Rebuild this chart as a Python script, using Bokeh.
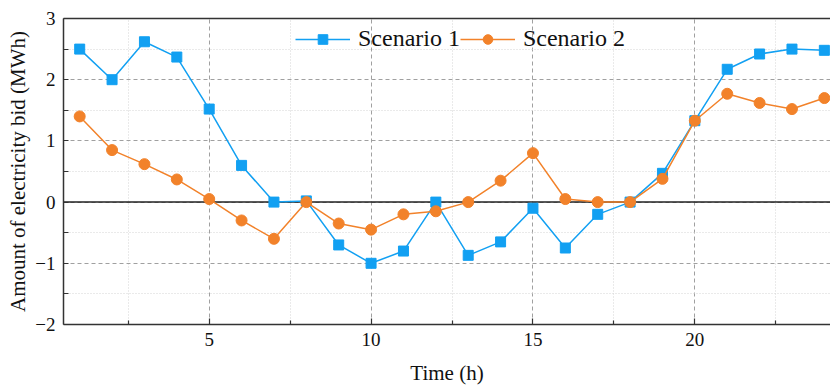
from bokeh.plotting import figure
from bokeh.models import FixedTicker, Span, LinearAxis, Range1d, Legend
from bokeh.embed import file_html
from bokeh.resources import INLINE

hours = list(range(1, 25))
scenario1 = [2.5, 2.0, 2.62, 2.37, 1.52, 0.6, 0.0, 0.02, -0.7, -1.0, -0.8, 0.0,
             -0.87, -0.65, -0.1, -0.75, -0.2, 0.0, 0.47, 1.33, 2.17, 2.42, 2.5, 2.48]
scenario2 = [1.4, 0.85, 0.62, 0.37, 0.05, -0.3, -0.6, 0.0, -0.35, -0.45, -0.2, -0.15,
             0.0, 0.35, 0.8, 0.05, 0.0, 0.0, 0.38, 1.33, 1.77, 1.62, 1.52, 1.7]
x_major = [5, 10, 15, 20]
x_minor = [2.5, 7.5, 12.5, 17.5, 22.5]
y_major = [-2, -1, 0, 1, 2, 3]
y_minor = [-1.5, -0.5, 0.5, 1.5, 2.5]

FONT = "Liberation Serif"
BLUE = "#12A0F2"
ORANGE = "#F2822A"
AX = "#333333"

p = figure(frame_width=767, frame_height=306, output_backend="svg", toolbar_location=None,
           x_range=Range1d(0.5, 24.19), y_range=Range1d(-2, 3),
           min_border_left=63, min_border_right=0, min_border_top=18, min_border_bottom=64)
p.outline_line_color = None
p.background_fill_color = "white"

xticker = FixedTicker(ticks=x_major, minor_ticks=x_minor)
yticker = FixedTicker(ticks=y_major, minor_ticks=y_minor)

p.xaxis.ticker = xticker
p.yaxis.ticker = yticker
p.yaxis.major_label_overrides = {-2: "\u22122", -1: "\u22121"}
p.axis.axis_line_color = AX
p.axis.axis_line_width = 1.5
p.axis.major_tick_line_color = AX
p.axis.minor_tick_line_color = AX
p.axis.major_tick_line_width = 1.2
p.axis.minor_tick_line_width = 1.2
p.axis.major_tick_out = 0
p.axis.minor_tick_out = 0
p.axis.major_label_text_font = FONT
p.axis.axis_label_text_font = FONT
p.axis.major_label_text_font_size = "19px"
p.axis.major_label_text_color = "#111111"
p.axis.axis_label_text_font_size = "21px"
p.axis.axis_label_text_font_style = "normal"
p.axis.axis_label_text_color = "#111111"
p.axis.major_label_standoff = 8
p.xaxis.major_tick_in = 6
p.xaxis.minor_tick_in = 4
p.yaxis.major_tick_in = 5
p.yaxis.minor_tick_in = 5
p.xaxis.axis_label = "Time (h)"
p.yaxis.axis_label = "Amount of electricity bid (MWh)"
p.xaxis.axis_label_standoff = 12
p.yaxis.axis_label_standoff = 2

top = LinearAxis(ticker=FixedTicker(ticks=[]), major_label_text_font_size="0px",
                 axis_line_color=AX, axis_line_width=1.5,
                 major_tick_line_color=None, minor_tick_line_color=None)
p.add_layout(top, "above")

p.xgrid.ticker = xticker
p.ygrid.ticker = yticker
for g in (p.xgrid[0], p.ygrid[0]):
    g.grid_line_color = "#a0a0a0"
    g.grid_line_dash = "4 3"
    g.grid_line_width = 1
    g.minor_grid_line_color = "#d4d4d4"
    g.minor_grid_line_dash = "1 2"
    g.minor_grid_line_width = 1

zero = Span(location=0, dimension="width", line_color="#222222", line_width=1.5, level="underlay")
p.add_layout(zero)

l1 = p.line(hours, scenario1, line_color=BLUE, line_width=1.5)
m1 = p.scatter(hours, scenario1, marker="square", size=10, fill_color=BLUE, line_color=BLUE)
l2 = p.line(hours, scenario2, line_color=ORANGE, line_width=1.5)
m2 = p.scatter(hours, scenario2, marker="circle", size=11, fill_color=ORANGE, line_color=ORANGE)

legend = Legend(items=[("Scenario 1", [l1, m1]), ("Scenario 2", [l2, m2])],
                orientation="horizontal", location=(232, 272),
                border_line_color=None, background_fill_alpha=0,
                label_text_font=FONT, label_text_font_size="24px", label_text_color="#111111",
                glyph_width=55, glyph_height=24, label_standoff=8, spacing=-3,
                padding=0, margin=0)
p.add_layout(legend, "center")

open("out.html", "w").write(file_html(p, INLINE))
